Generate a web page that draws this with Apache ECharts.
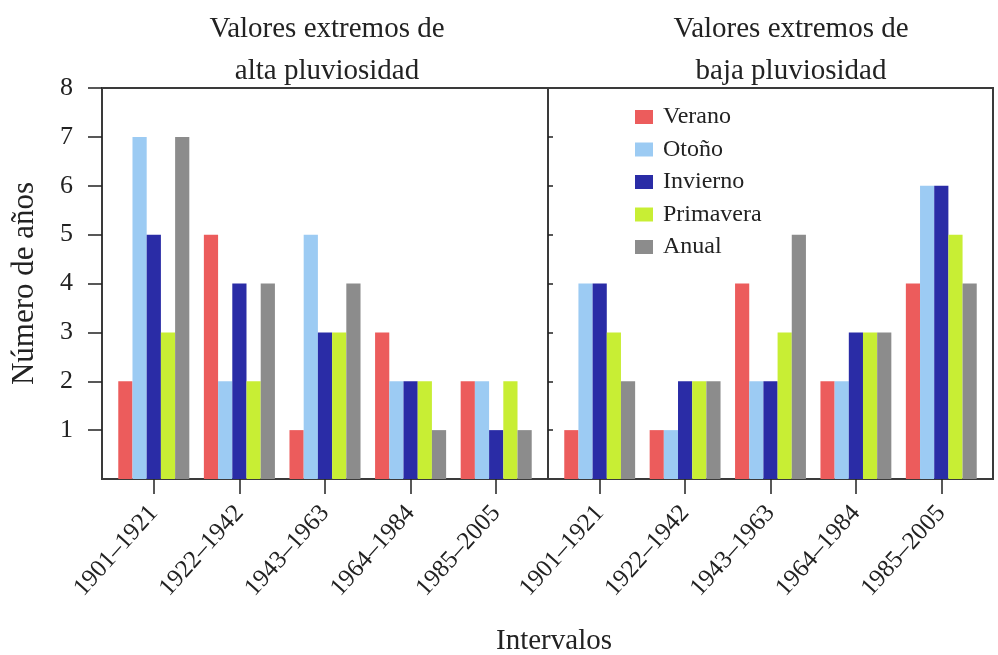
<!DOCTYPE html>
<html>
<head>
<meta charset="utf-8">
<script src="https://cdn.jsdelivr.net/npm/echarts@6/dist/echarts.min.js"></script>
<style>html,body{margin:0;padding:0;background:#fff}#c{width:998px;height:655px}</style>
</head>
<body>
<div id="c"></div>
<script>
var categories = ['1901–1921', '1922–1942', '1943–1963', '1964–1984', '1985–2005'];
var seriesNames = ['Verano', 'Otoño', 'Invierno', 'Primavera', 'Anual'];
var yTicks = [1, 2, 3, 4, 5, 6, 7, 8];
// Valores extremos de alta pluviosidad
var altaVerano    = [2, 5, 1, 3, 2];
var altaOtono     = [7, 2, 5, 2, 2];
var altaInvierno  = [5, 4, 3, 2, 1];
var altaPrimavera = [3, 2, 3, 2, 2];
var altaAnual     = [7, 4, 4, 1, 1];
// Valores extremos de baja pluviosidad
var bajaVerano    = [1, 1, 4, 2, 4];
var bajaOtono     = [4, 1, 2, 2, 6];
var bajaInvierno  = [4, 2, 2, 3, 6];
var bajaPrimavera = [3, 2, 3, 3, 5];
var bajaAnual     = [2, 2, 5, 3, 4];

var colors = ['#ec5c5c', '#9ccbf3', '#2a2ca6', '#c8ee34', '#8c8c8c'];
var FONT = '"Liberation Serif", "DejaVu Serif", serif';
var TXT = '#222';

var alta = [altaVerano, altaOtono, altaInvierno, altaPrimavera, altaAnual];
var baja = [bajaVerano, bajaOtono, bajaInvierno, bajaPrimavera, bajaAnual];

var series = [];
[alta, baja].forEach(function (panel, p) {
  panel.forEach(function (vals, i) {
    series.push({
      type: 'bar',
      name: seriesNames[i],
      xAxisIndex: 2 + p,
      yAxisIndex: 2 + p,
      data: vals,
      barGap: '0%',
      barCategoryGap: '17%',
      itemStyle: { color: colors[i] },
      silent: true
    });
  });
});

var frameBorder = { show: true, borderColor: '#3a3a3a', borderWidth: 2, backgroundColor: 'transparent' };

var xLabel = { rotate: 48, interval: 0, margin: 30, fontFamily: FONT, fontSize: 25, color: TXT };
var xTick = { show: true, alignWithLabel: true, length: 15, lineStyle: { color: '#222', width: 1.5 } };

var option = {
  animation: false,
  backgroundColor: '#fff',
  color: colors,
  textStyle: { fontFamily: FONT },
  title: [
    { text: 'Valores extremos de\nalta pluviosidad', left: 322, top: 3, textAlign: 'center',
      textStyle: { fontFamily: FONT, fontSize: 29, fontWeight: 'normal', color: TXT, lineHeight: 42 } },
    { text: 'Valores extremos de\nbaja pluviosidad', left: 786, top: 3, textAlign: 'center',
      textStyle: { fontFamily: FONT, fontSize: 29, fontWeight: 'normal', color: TXT, lineHeight: 42 } },
    { text: 'Intervalos', left: 549, top: 622, textAlign: 'center',
      textStyle: { fontFamily: FONT, fontSize: 29, fontWeight: 'normal', color: TXT } }
  ],
  legend: {
    data: seriesNames,
    orient: 'vertical',
    left: 635,
    top: 105,
    padding: 0,
    icon: 'rect',
    itemWidth: 18,
    itemHeight: 14,
    itemGap: 8.5,
    textStyle: { fontFamily: FONT, fontSize: 24, color: TXT, padding: [0, 0, 0, 5] },
    selectedMode: false
  },
  grid: [
    Object.assign({ left: 102, top: 88, width: 446, height: 391 }, frameBorder),
    Object.assign({ left: 548, top: 88, width: 445, height: 391 }, frameBorder),
    { left: 111, top: 88, width: 428, height: 391, show: false },
    { left: 557, top: 88, width: 427, height: 391, show: false }
  ],
  xAxis: [
    { gridIndex: 0, type: 'value', min: 0, max: 1, show: false },
    { gridIndex: 1, type: 'value', min: 0, max: 1, show: false },
    { gridIndex: 2, type: 'category', data: categories, axisLine: { show: false },
      axisTick: xTick, axisLabel: xLabel },
    { gridIndex: 3, type: 'category', data: categories, axisLine: { show: false },
      axisTick: xTick, axisLabel: xLabel }
  ],
  yAxis: [
    { gridIndex: 0, type: 'value', min: 0, max: 8, interval: 1, position: 'left',
      name: 'Número de años', nameLocation: 'middle', nameGap: 62, nameRotate: 90,
      nameTextStyle: { fontFamily: FONT, fontSize: 31, color: TXT },
      axisLine: { show: false },
      axisTick: { show: true, length: 14, lineStyle: { color: '#222', width: 1.5 },
        customValues: yTicks },
      axisLabel: { margin: 29, fontFamily: FONT, fontSize: 26, color: TXT,
        customValues: yTicks },
      splitLine: { show: false } },
    { gridIndex: 1, type: 'value', min: 0, max: 8, interval: 1, position: 'right',
      axisLine: { show: false },
      axisTick: { show: true, length: 5, lineStyle: { color: '#222', width: 1.5 },
        customValues: [1, 2, 3, 4, 5, 6, 7] },
      axisLabel: { show: false },
      splitLine: { show: false } },
    { gridIndex: 2, type: 'value', min: 0, max: 8, interval: 1, show: false, splitLine: { show: false } },
    { gridIndex: 3, type: 'value', min: 0, max: 8, interval: 1, show: false, splitLine: { show: false } }
  ],
  series: series
};

var chart = echarts.init(document.getElementById('c'), null, { renderer: 'canvas' });
chart.setOption(option);
</script>
</body>
</html>
